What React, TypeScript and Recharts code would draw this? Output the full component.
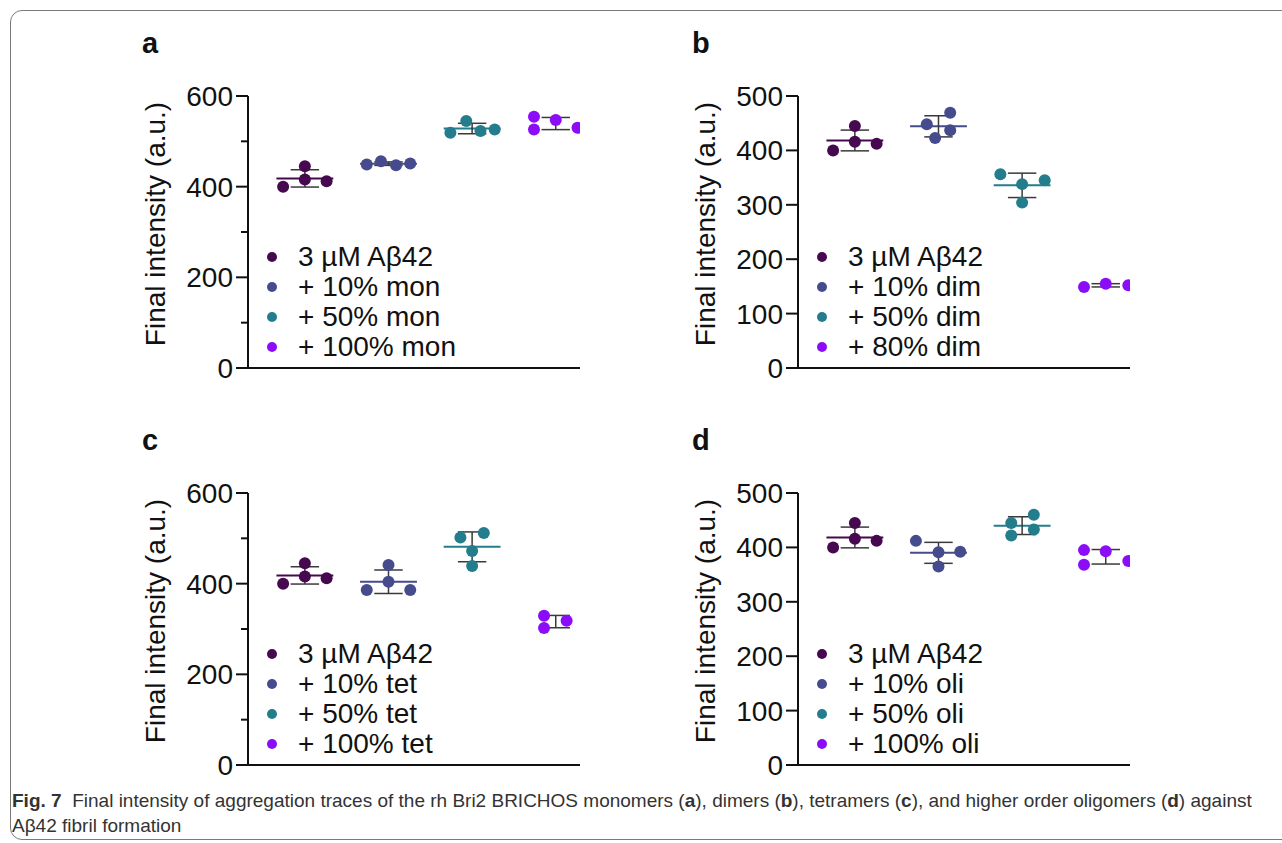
import React from 'react';
import { ScatterChart, Scatter, XAxis, YAxis, ReferenceLine, Label } from 'recharts';

const FONT = '"Liberation Sans", Arial, Helvetica, sans-serif';
const GROUP_COLORS = ['#46084f', '#454b8c', '#237d8c', '#8b0df8'];
const CATEGORIES = [1, 2, 3, 4];

// control: 3 µM Aβ42 alone (same in all panels)
const BASELINE = [400, 445, 416, 412];
const BASELINE_SPREAD = [-0.26, 0, 0, 0.26];

// a: monomers
const MON_LABELS = ['3 µM Aβ42', '+ 10% mon', '+ 50% mon', '+ 100% mon'];
const MON_10 = [449, 456, 447, 451];
const MON_10_SPREAD = [-0.26, -0.09, 0.09, 0.26];
const MON_50 = [519, 545, 523, 526];
const MON_50_SPREAD = [-0.26, -0.07, 0.1, 0.27];
const MON_100 = [554, 526, 547, 530];
const MON_100_SPREAD = [-0.26, -0.26, 0, 0.26];

// b: dimers
const DIM_LABELS = ['3 µM Aβ42', '+ 10% dim', '+ 50% dim', '+ 80% dim'];
const DIM_10 = [448, 423, 469, 437];
const DIM_10_SPREAD = [-0.14, -0.04, 0.14, 0.14];
const DIM_50 = [356, 338, 345, 304];
const DIM_50_SPREAD = [-0.26, 0, 0.27, 0];
const DIM_80 = [149, 155, 152];
const DIM_80_SPREAD = [-0.26, 0, 0.27];

// c: tetramers
const TET_LABELS = ['3 µM Aβ42', '+ 10% tet', '+ 50% tet', '+ 100% tet'];
const TET_10 = [386, 441, 404, 386];
const TET_10_SPREAD = [-0.26, 0, 0, 0.26];
const TET_50 = [502, 512, 472, 439];
const TET_50_SPREAD = [-0.14, 0.14, 0, 0];
const TET_100 = [329, 302, 318];
const TET_100_SPREAD = [-0.14, -0.14, 0.13];

// d: higher order oligomers
const OLI_LABELS = ['3 µM Aβ42', '+ 10% oli', '+ 50% oli', '+ 100% oli'];
const OLI_10 = [412, 391, 365, 392];
const OLI_10_SPREAD = [-0.27, 0, 0, 0.26];
const OLI_50 = [445, 460, 422, 433];
const OLI_50_SPREAD = [-0.13, 0.14, -0.13, 0.14];
const OLI_100 = [395, 393, 368, 375];
const OLI_100_SPREAD = [-0.26, 0, -0.26, 0.27];

const TICKS_600 = [0, 100, 200, 300, 400, 500, 600];
const LABELED_600 = [0, 200, 400, 600];
const TICKS_500 = [0, 100, 200, 300, 400, 500];

const mean = (v: number[]) => v.reduce((s, x) => s + x, 0) / v.length;
const sd = (v: number[]) => {
  const m = mean(v);
  return Math.sqrt(v.reduce((s, x) => s + (x - m) ** 2, 0) / (v.length - 1));
};

type Group = [number[], number[]];

const PANELS = [
  {
    letter: 'a', left: 130, top: 80, yMax: 600, ticks: TICKS_600, labeled: LABELED_600, legend: MON_LABELS,
    groups: [[BASELINE, BASELINE_SPREAD], [MON_10, MON_10_SPREAD], [MON_50, MON_50_SPREAD], [MON_100, MON_100_SPREAD]] as Group[],
  },
  {
    letter: 'b', left: 680, top: 80, yMax: 500, ticks: TICKS_500, labeled: TICKS_500, legend: DIM_LABELS,
    groups: [[BASELINE, BASELINE_SPREAD], [DIM_10, DIM_10_SPREAD], [DIM_50, DIM_50_SPREAD], [DIM_80, DIM_80_SPREAD]] as Group[],
  },
  {
    letter: 'c', left: 130, top: 477, yMax: 600, ticks: TICKS_600, labeled: LABELED_600, legend: TET_LABELS,
    groups: [[BASELINE, BASELINE_SPREAD], [TET_10, TET_10_SPREAD], [TET_50, TET_50_SPREAD], [TET_100, TET_100_SPREAD]] as Group[],
  },
  {
    letter: 'd', left: 680, top: 477, yMax: 500, ticks: TICKS_500, labeled: TICKS_500, legend: OLI_LABELS,
    groups: [[BASELINE, BASELINE_SPREAD], [OLI_10, OLI_10_SPREAD], [OLI_50, OLI_50_SPREAD], [OLI_100, OLI_100_SPREAD]] as Group[],
  },
];

const YTick = ({ x, y, payload, labeled }: any) => {
  const major = labeled.includes(payload.value);
  const len = major ? 12 : 7;
  return (
    <g>
      <line x1={x - len} x2={x} y1={y} y2={y} stroke="#111" strokeWidth={2} />
      {major && (
        <text x={x - len - 3} y={y} dy="0.36em" textAnchor="end" fontSize={28} fontFamily={FONT} fill="#111">
          {payload.value}
        </text>
      )}
    </g>
  );
};

const Panel = ({ panel }: { panel: (typeof PANELS)[number] }) => {
  const stats = panel.groups.map(([vals]) => ({ m: mean(vals), s: sd(vals) }));
  return (
    <div style={{ position: 'absolute', left: panel.left, top: panel.top, width: 470, height: 321 }}>
      <ScatterChart width={470} height={321} margin={{ top: 16, right: 20, bottom: 0, left: 0 }}>
        <XAxis type="number" dataKey="x" domain={[0.32, 4.29]} allowDataOverflow tick={false} tickLine={false}
          axisLine={{ stroke: '#111', strokeWidth: 2 }} height={33} />
        <YAxis type="number" dataKey="y" domain={[0, panel.yMax]} ticks={panel.ticks} interval={0} width={118}
          tickLine={false} tickSize={0} tickMargin={0} axisLine={{ stroke: '#111', strokeWidth: 2 }}
          tick={<YTick labeled={panel.labeled} />}>
          <Label
            content={({ viewBox }: any) => {
              const cx = viewBox.x + 25;
              const cy = viewBox.y + viewBox.height / 2 - 8;
              return (
                <text x={cx} y={cy} transform={`rotate(-90 ${cx} ${cy})`} textAnchor="middle" dy="0.36em"
                  fontSize={28} fontFamily={FONT} fill="#111">
                  Final intensity (a.u.)
                </text>
              );
            }}
          />
        </YAxis>
        {CATEGORIES.map((c, i) => (
          <ReferenceLine key={`m${i}`} segment={[{ x: c - 0.34, y: stats[i].m }, { x: c + 0.34, y: stats[i].m }]}
            stroke={GROUP_COLORS[i]} strokeWidth={2} />
        ))}
        {CATEGORIES.map((c, i) => (
          <ReferenceLine key={`v${i}`} segment={[{ x: c, y: stats[i].m - stats[i].s }, { x: c, y: stats[i].m + stats[i].s }]}
            stroke="#3a3a3a" strokeWidth={1.5} />
        ))}
        {CATEGORIES.map((c, i) => (
          <ReferenceLine key={`u${i}`} segment={[{ x: c - 0.17, y: stats[i].m + stats[i].s }, { x: c + 0.17, y: stats[i].m + stats[i].s }]}
            stroke="#3a3a3a" strokeWidth={1.5} />
        ))}
        {CATEGORIES.map((c, i) => (
          <ReferenceLine key={`l${i}`} segment={[{ x: c - 0.17, y: stats[i].m - stats[i].s }, { x: c + 0.17, y: stats[i].m - stats[i].s }]}
            stroke="#3a3a3a" strokeWidth={1.5} />
        ))}
        {panel.groups.map(([vals, spread], i) => (
          <Scatter key={`s${i}`} isAnimationActive={false} fill={GROUP_COLORS[i]}
            data={vals.map((v, k) => ({ x: CATEGORIES[i] + spread[k], y: v }))}
            shape={(p: any) => <circle cx={p.cx} cy={p.cy} r={6} fill={GROUP_COLORS[i]} />} />
        ))}
      </ScatterChart>
      <div style={{ position: 'absolute', left: 12, top: -51, fontFamily: FONT, fontWeight: 'bold', fontSize: 29, lineHeight: '29px', color: '#111' }}>
        {panel.letter}
      </div>
      <div style={{ position: 'absolute', left: 0, top: 162 }}>
        {panel.legend.map((name, i) => (
          <div key={name} style={{ position: 'absolute', left: 0, top: i * 30, height: 30, width: 300, display: 'flex', alignItems: 'center' }}>
            <span style={{ position: 'absolute', left: 137, width: 10, height: 10, borderRadius: 5, background: GROUP_COLORS[i] }} />
            <span style={{ position: 'absolute', left: 168, fontFamily: FONT, fontSize: 28, color: '#111', whiteSpace: 'nowrap', lineHeight: '30px' }}>
              {name}
            </span>
          </div>
        ))}
      </div>
    </div>
  );
};

export default function App() {
  return (
    <div style={{ position: 'absolute', left: 0, top: 0, width: 1282, height: 843, background: '#fff', overflow: 'hidden' }}>
      <div style={{ position: 'absolute', left: 10, top: 10, width: 1320, height: 828, border: '1.5px solid #7a7a7a', borderRadius: 12 }} />
      {PANELS.map((p) => <Panel key={p.letter} panel={p} />)}
      <div style={{ position: 'absolute', left: 12, top: 788, fontFamily: '"Liberation Sans Narrow", "Liberation Sans", sans-serif', fontSize: 19, lineHeight: '25px', color: '#333', whiteSpace: 'nowrap' }}>
        <b>Fig. 7</b>&nbsp;&nbsp;Final intensity of aggregation traces of the rh Bri2 BRICHOS monomers (<b>a</b>), dimers (<b>b</b>), tetramers (<b>c</b>), and higher order oligomers (<b>d</b>) against
        <br />
        Aβ42 fibril formation
      </div>
    </div>
  );
}
